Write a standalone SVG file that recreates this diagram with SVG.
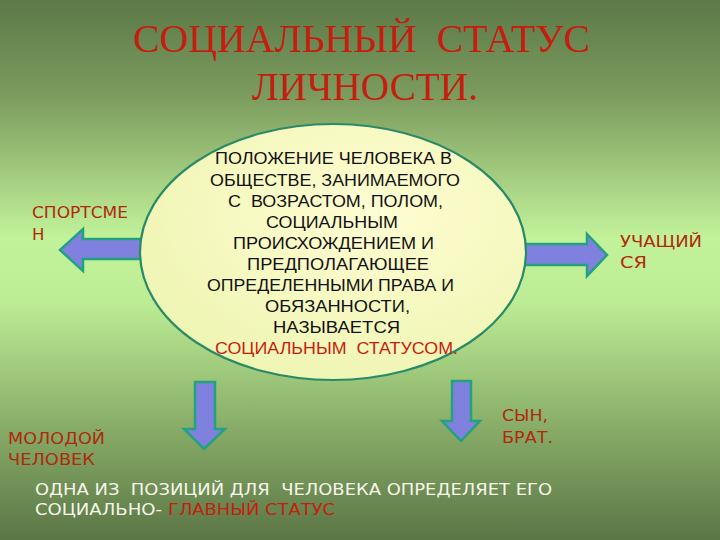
<svg xmlns="http://www.w3.org/2000/svg" width="720" height="540" viewBox="0 0 720 540">
  <defs>
    <linearGradient id="bg" x1="0" y1="0" x2="0" y2="1">
      <stop offset="0" stop-color="#5c7948"/>
      <stop offset="0.18" stop-color="#7c9c5e"/>
      <stop offset="0.44" stop-color="#c2f29a"/>
      <stop offset="0.56" stop-color="#bcec94"/>
      <stop offset="0.8" stop-color="#86aa66"/>
      <stop offset="1" stop-color="#5b7646"/>
    </linearGradient>
    <radialGradient id="ell" cx="0.6" cy="0.35" r="0.7">
      <stop offset="0" stop-color="#fffdd2"/>
      <stop offset="1" stop-color="#eef5b2"/>
    </radialGradient>
    <style>
      .title{font-family:"Liberation Serif","Times New Roman",serif;font-size:39px;fill:#c41e10}
      .body{font-family:"Liberation Sans",Arial,sans-serif;font-size:16.5px;fill:#111}
      .lbl{font-family:"DejaVu Sans",Verdana,sans-serif;font-size:16.5px;fill:#b02a0c}
      .foot{font-family:"DejaVu Sans",Verdana,sans-serif;font-size:16px;fill:#f6f6ea}
      .red{fill:#c41e10}
      .arrow{fill:#8080de;stroke:#22a27e;stroke-width:2.5;stroke-linejoin:miter}
    </style>
  </defs>
  <rect x="0" y="0" width="720" height="540" fill="url(#bg)"/>

  <g id="title">
    <text class="title" x="133" y="52" textLength="457" lengthAdjust="spacingAndGlyphs">СОЦИАЛЬНЫЙ&#160; СТАТУС</text>
    <text class="title" x="252" y="100" textLength="226" lengthAdjust="spacingAndGlyphs">ЛИЧНОСТИ.</text>
  </g>

  <g id="connectors">
    <polygon class="arrow" points="148,239 83,239 83,229 60,250 83,271 83,259 148,259"/>
    <polygon class="arrow" points="515,244 587,244 587,234 607,255 587,276 587,265 515,265"/>
    <polygon class="arrow" points="195,382 215,382 215,429 225,429 204,449 184,429 195,429"/>
    <polygon class="arrow" points="452,381 471,381 471,421 480,421 461,441 442,421 452,421"/>
  </g>

  <g id="center">
    <ellipse cx="333" cy="252" rx="193" ry="128" fill="url(#ell)" stroke="#2a8a68" stroke-width="2.2"/>
    <text class="body" x="215" y="163.5" textLength="237" lengthAdjust="spacingAndGlyphs">ПОЛОЖЕНИЕ ЧЕЛОВЕКА В</text>
    <text class="body" x="210" y="185.5" textLength="250" lengthAdjust="spacingAndGlyphs">ОБЩЕСТВЕ, ЗАНИМАЕМОГО</text>
    <text class="body" x="228" y="207" textLength="215" lengthAdjust="spacingAndGlyphs">С&#160; ВОЗРАСТОМ, ПОЛОМ,</text>
    <text class="body" x="266" y="228" textLength="132" lengthAdjust="spacingAndGlyphs">СОЦИАЛЬНЫМ</text>
    <text class="body" x="233" y="248.5" textLength="201" lengthAdjust="spacingAndGlyphs">ПРОИСХОЖДЕНИЕМ И</text>
    <text class="body" x="247" y="270" textLength="182" lengthAdjust="spacingAndGlyphs">ПРЕДПОЛАГАЮЩЕЕ</text>
    <text class="body" x="207" y="290.5" textLength="247" lengthAdjust="spacingAndGlyphs">ОПРЕДЕЛЕННЫМИ ПРАВА И</text>
    <text class="body" x="265" y="311.5" textLength="145" lengthAdjust="spacingAndGlyphs">ОБЯЗАННОСТИ,</text>
    <text class="body" x="273" y="332.5" textLength="127" lengthAdjust="spacingAndGlyphs">НАЗЫВАЕТСЯ</text>
    <text class="body red" x="215" y="354" textLength="243" lengthAdjust="spacingAndGlyphs">СОЦИАЛЬНЫМ&#160; СТАТУСОМ.</text>
  </g>

  <g id="sportsmen">
    <text class="lbl" x="32" y="218" textLength="96" lengthAdjust="spacingAndGlyphs">СПОРТСМЕ</text>
    <text class="lbl" x="32" y="240">Н</text>
  </g>
  <g id="student">
    <text class="lbl" x="620" y="247" textLength="82" lengthAdjust="spacingAndGlyphs">УЧАЩИЙ</text>
    <text class="lbl" x="620" y="268" textLength="27" lengthAdjust="spacingAndGlyphs">СЯ</text>
  </g>
  <g id="young">
    <text class="lbl" x="8" y="444" textLength="97" lengthAdjust="spacingAndGlyphs">МОЛОДОЙ</text>
    <text class="lbl" x="8" y="465" textLength="87" lengthAdjust="spacingAndGlyphs">ЧЕЛОВЕК</text>
  </g>
  <g id="son">
    <text class="lbl" x="502" y="421" textLength="46" lengthAdjust="spacingAndGlyphs">СЫН,</text>
    <text class="lbl" x="502" y="443" textLength="51" lengthAdjust="spacingAndGlyphs">БРАТ.</text>
  </g>

  <g id="footer">
    <text class="foot" x="35" y="495" textLength="517" lengthAdjust="spacingAndGlyphs">ОДНА ИЗ&#160; ПОЗИЦИЙ ДЛЯ&#160; ЧЕЛОВЕКА ОПРЕДЕЛЯЕТ ЕГО</text>
    <text class="foot" x="35" y="515" textLength="127" lengthAdjust="spacingAndGlyphs">СОЦИАЛЬНО-</text>
    <text class="foot red" x="168" y="515" textLength="167" lengthAdjust="spacingAndGlyphs">ГЛАВНЫЙ СТАТУС</text>
  </g>
</svg>
